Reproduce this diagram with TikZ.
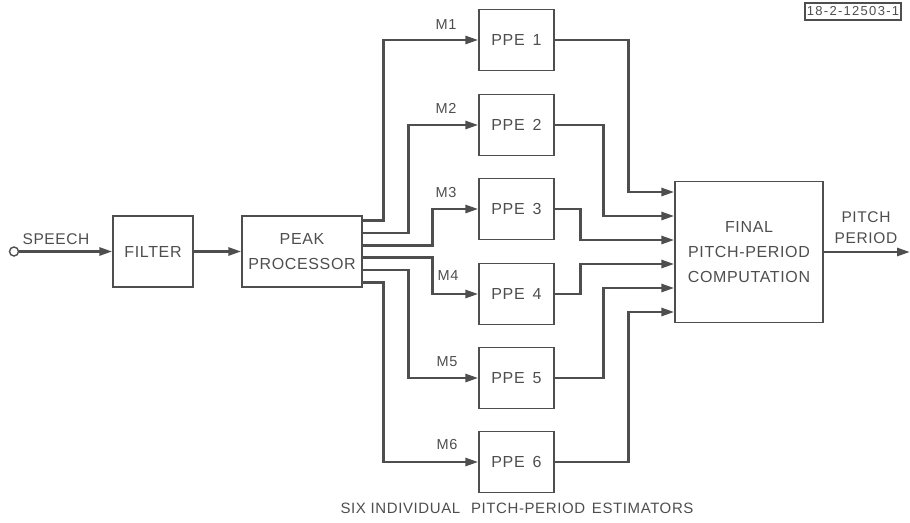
\documentclass[tikz,border=0pt]{standalone}
\usepackage{fontspec}
\setmainfont{Liberation Sans}[LetterSpace=4]
\usetikzlibrary{arrows.meta}
\definecolor{ink}{HTML}{4E4E4E}
\begin{document}
\begin{tikzpicture}[x=1pt,y=-1pt,
  box/.style={draw=ink, line width=1.4pt, inner sep=0pt, align=center, text=ink,
    font=\fontsize{16}{25}\selectfont},
  ppebox/.style={box, minimum width=75pt, minimum height=61pt},
  conn/.style={draw=ink, line width=2.7pt, -{Triangle[length=13pt,width=8pt]}},
  lbl/.style={text=ink, font=\fontsize{14.5}{20}\selectfont, inner sep=0pt, align=center}]
\useasboundingbox (0,0) rectangle (910,522);

% main boxes
\node[box, minimum width=80pt, minimum height=71pt] (filter) at (153,251.5) {FILTER};
\node[box, minimum width=120pt, minimum height=71pt] (peak) at (302,251.5) {PEAK\\PROCESSOR};
\node[box, minimum width=148pt, minimum height=141pt] (final) at (749,252) {FINAL\\PITCH-PERIOD\\COMPUTATION};

% PPE boxes
\node[ppebox] (ppe1) at (516.5,40)  {PPE\hspace{8pt}1};
\node[ppebox] (ppe2) at (516.5,125) {PPE\hspace{8pt}2};
\node[ppebox] (ppe3) at (516.5,209) {PPE\hspace{8pt}3};
\node[ppebox] (ppe4) at (516.5,294) {PPE\hspace{8pt}4};
\node[ppebox] (ppe5) at (516.5,378) {PPE\hspace{8pt}5};
\node[ppebox] (ppe6) at (516.5,462) {PPE\hspace{8pt}6};

% input
\node[draw=ink, line width=1.4pt, circle, inner sep=0pt, minimum size=9pt] (speech) at (14,251.5) {};
\node[lbl, font=\fontsize{15.5}{18}\selectfont] (speechlbl) at (56,239) {SPEECH};
\draw[conn] (speech.east) -- (filter.west);
\draw[conn] (filter.east) -- (peak.west);

% peak processor to PPEs
\draw[conn] ([yshift=31pt]peak.east)    -- ++(21,0) |- (ppe1.west);
\draw[conn] ([yshift=18.6pt]peak.east)  -- ++(46,0) |- (ppe2.west);
\draw[conn] ([yshift=6.2pt]peak.east)   -- ++(70,0) |- (ppe3.west);
\draw[conn] ([yshift=-6.2pt]peak.east)  -- ++(70,0) |- (ppe4.west);
\draw[conn] ([yshift=-18.6pt]peak.east) -- ++(46,0) |- (ppe5.west);
\draw[conn] ([yshift=-31pt]peak.east)   -- ++(21,0) |- (ppe6.west);

% M labels
\node[lbl] (m1) at (446,25)  {M1};
\node[lbl] (m2) at (446,108) {M2};
\node[lbl] (m3) at (446,193) {M3};
\node[lbl] (m4) at (448,276) {M4};
\node[lbl] (m5) at (447,362) {M5};
\node[lbl] (m6) at (447,445) {M6};

% PPEs to final
\draw[conn] (ppe1.east) -- ++(74,0) |- ([yshift=60pt]final.west);
\draw[conn] (ppe2.east) -- ++(49,0) |- ([yshift=36pt]final.west);
\draw[conn] (ppe3.east) -- ++(26,0) |- ([yshift=12pt]final.west);
\draw[conn] (ppe4.east) -- ++(26,0) |- ([yshift=-12pt]final.west);
\draw[conn] (ppe5.east) -- ++(49,0) |- ([yshift=-36pt]final.west);
\draw[conn] (ppe6.east) -- ++(74,0) |- ([yshift=-60pt]final.west);

% output
\coordinate (out) at (910,252);
\draw[conn] (final.east) -- (out);
\node[lbl, font=\fontsize{15.5}{21}\selectfont] (pitchlbl) at (866,228) {PITCH\\PERIOD};

% caption
\node[lbl, font=\fontsize{15}{18}\selectfont] (caption) at (517,508) {SIX INDIVIDUAL\hspace{6pt} PITCH-PERIOD\hspace{2pt} ESTIMATORS};

% tag
\node[draw=ink, line width=1.4pt, text=ink, inner sep=0pt, minimum width=96pt, minimum height=17pt,
  font=\fontsize{13}{14}\selectfont\addfontfeature{LetterSpace=10}] (tag) at (853,11.5) {18-2-12503-1};
\end{tikzpicture}
\end{document}
